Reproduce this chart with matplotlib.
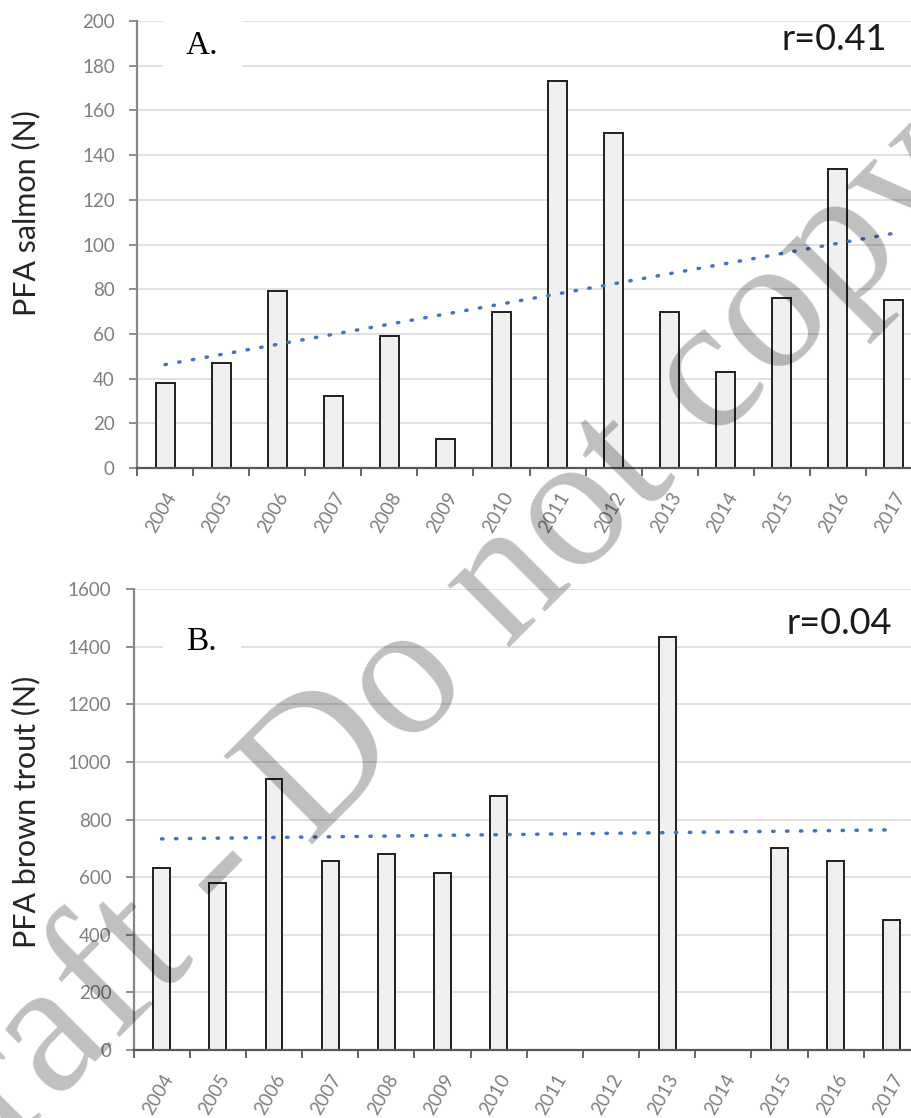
import numpy as np
import matplotlib
matplotlib.use('Agg')
import matplotlib.pyplot as plt

years = [str(y) for y in range(2004, 2018)]
salmon = [38, 47, 79, 32, 59, 13, 70, 173, 150, 70, 43, 76, 134, 75]
trout = [630, 580, 940, 655, 680, 615, 880, np.nan, np.nan, 1435, np.nan, 700, 655, 450]
r_salmon = "r=0.41"
r_trout = "r=0.04"
ylabel_salmon = "PFA salmon (N)"
ylabel_trout = "PFA brown trout (N)"
watermark = "Draft - Do not copy"

SANS = ['Lato', 'DejaVu Sans']
SERIF = ['Liberation Serif', 'DejaVu Serif']
plt.rcParams['font.family'] = SANS

W, H = 911, 1118
fig = plt.figure(figsize=(W / 100, H / 100), dpi=100)


def px_axes(l, r, t, b):
    return fig.add_axes([l / W, 1 - b / H, (r - l) / W, (b - t) / H])


def panel(ax, vals, ymax, ystep, width, rtext, rpos, letter, lpos):
    n = len(years)
    x = np.arange(n)
    v = np.array(vals, dtype=float)
    m = ~np.isnan(v)
    ax.bar(x[m], v[m], width=width, color='#f0f0f0', edgecolor='#1f1f1f',
           linewidth=1.4, zorder=2)
    coef = np.polyfit(x[m], v[m], 1)
    xx = np.array([0, n - 1])
    ax.plot(xx, np.polyval(coef, xx), color='#4472c4', lw=2.5,
            linestyle=(0, (0.4, 3.6)), dash_capstyle='round', zorder=3)
    ax.set_xlim(-0.5, n - 0.5)
    ax.set_ylim(0, ymax)
    ax.set_yticks(np.arange(0, ymax + 1, ystep))
    ax.yaxis.grid(True, color='#d9d9d9', lw=1.1)
    ax.set_axisbelow(True)
    ax.set_xticks(x)
    ax.set_xticklabels(years, rotation=60, ha='right', rotation_mode='anchor')
    ax.set_xticks(np.arange(-0.5, n), minor=True)
    ax.tick_params(axis='x', which='major', length=0, pad=15,
                   labelsize=13.5, labelcolor='#7f7f7f')
    ax.tick_params(axis='x', which='minor', length=6, width=1.3,
                   color='#595959', direction='out')
    ax.tick_params(axis='y', length=6, width=1.3, color='#868686', pad=10,
                   labelsize=13.5, labelcolor='#7f7f7f')
    for s in ('top', 'right'):
        ax.spines[s].set_visible(False)
    ax.spines['left'].set_color('#868686')
    ax.spines['left'].set_linewidth(1.6)
    ax.spines['bottom'].set_color('#595959')
    ax.spines['bottom'].set_linewidth(1.6)
    ax.text(rpos[0], rpos[1], rtext, transform=ax.transAxes, ha='right',
            va='center', fontsize=26, color='#1a1a1a', zorder=6)
    ax.text(lpos[0], lpos[1], letter, transform=ax.transAxes, ha='center',
            va='center', fontsize=24, family=SERIF, color='black', zorder=6,
            bbox=dict(boxstyle='square,pad=0.7', facecolor='white',
                      edgecolor='none'))


ax1 = px_axes(137, 922, 21, 468)
panel(ax1, salmon, 200, 20, 0.34, r_salmon, (0.955, 0.9575), "A.", (0.083, 0.944))

ax2 = px_axes(133.5, 920, 589, 1050)
panel(ax2, trout, 1600, 200, 0.30, r_trout, (0.964, 0.926), "B.", (0.087, 0.885))

fig.text(26 / W, 1 - 213 / H, ylabel_salmon, rotation=90, ha='center',
         va='center', fontsize=22, color='#262626')
fig.text(26 / W, 1 - 812 / H, ylabel_trout, rotation=90, ha='center',
         va='center', fontsize=22, color='#262626')

fig.text(410 / W, 1 - 680 / H, watermark, rotation=45, rotation_mode='anchor',
         ha='center', va='center', fontsize=137, family=SERIF, color='black',
         alpha=0.25, zorder=100)

fig.savefig('out.png', dpi=100)
